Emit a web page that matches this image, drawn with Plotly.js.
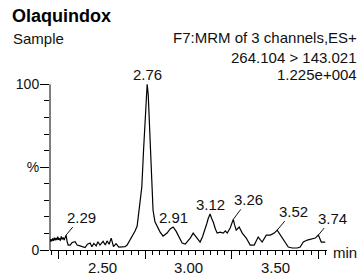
<!DOCTYPE html>
<html>
<head>
<meta charset="utf-8">
<script src="https://cdn.plot.ly/plotly-3.0.1.min.js"></script>
<style>
html,body{margin:0;padding:0;background:#fff;overflow:hidden;}
#chart{width:359px;height:278px;}
</style>
</head>
<body>
<div id="chart"></div>
<script>
// ---- data (retention time in min, relative intensity in %) ----
const times = [
  2.198,2.203,2.208,2.213,2.218,2.223,2.228,2.233,2.238,2.243,2.248,2.253,2.258,2.263,2.268,2.274,2.280,2.286,2.291,2.297,
  2.303,2.314,2.326,2.343,2.355,2.372,2.390,2.401,2.415,2.430,2.440,2.452,2.465,2.475,2.487,2.497,2.505,2.518,2.528,2.540,
  2.552,2.565,2.580,2.596,2.615,2.632,2.644,2.655,2.667,2.680,2.690,2.702,2.713,2.722,2.729,2.739,2.748,2.755,2.760,2.766,
  2.772,2.780,2.787,2.794,2.805,2.817,2.835,2.852,2.875,2.893,2.910,2.927,2.945,2.962,2.980,2.995,3.009,3.026,3.040,3.049,
  3.066,3.080,3.090,3.105,3.113,3.124,3.133,3.142,3.155,3.165,3.182,3.200,3.212,3.223,3.240,3.250,3.258,3.266,3.275,3.292,
  3.310,3.333,3.356,3.379,3.402,3.425,3.449,3.472,3.495,3.512,3.530,3.553,3.576,3.599,3.628,3.645,3.663,3.686,3.709,3.732,
  3.750,3.767,3.790
];
const intensity = [
  5.0,6.5,5.2,7.0,5.5,7.5,5.8,7.2,6.0,8.0,6.2,7.0,5.6,8.2,6.4,7.6,6.0,8.0,9.0,5.0,
  3.0,3.0,4.5,5.0,3.0,2.5,1.8,1.5,3.5,4.2,2.0,4.0,2.5,5.0,3.0,4.5,5.2,3.0,5.5,3.5,
  7.2,2.0,3.8,1.8,1.8,2.0,3.0,5.0,7.5,9.5,11.5,14.5,23,32,38,60,79,93,100,94,
  79,60,37,24,17,14.5,10.8,8.4,10.2,12.7,13.9,11.4,7.2,4.2,3.6,5.5,7.2,10.2,8.5,7.5,
  4.8,8.0,10.8,16,19,21.7,19,16.9,12.5,10.2,10.8,10.2,11.5,10.2,13.3,16,18.5,15,12.0,13.9,
  10.2,7.2,3.0,3.0,7.8,4.8,9.0,9.0,10.2,12.0,9.0,4.8,1.8,1.2,1.2,1.8,4.8,6.0,6.6,7.2,
  9.0,4.8,4.8
];
const peakLabels = ['2.29','2.76','2.91','3.12','3.26','3.52','3.74'];
const xTickLabels = ['2.50','3.00','3.50'];
const xLongTicks = [2.25, 2.75, 3.25, 3.75];
const yTickVals = [0, 50, 100];
const yTickLabels = ['0', '%', '100'];
const compoundName = 'Olaquindox';
const sampleName = 'Sample';
const headerRight = ['F7:MRM of 3 channels,ES+', '264.104 > 143.021', '1.225e+004'];
const xUnit = 'min';

// ---- layout helpers (pixel geometry of the plot frame) ----
const L = 50, R = 327, T = 81, B = 250;
const W = 359, H = 278;
const px = v => (v - L) / (R - L);
const py = v => (B - v) / (B - T);
const FONT = 'Liberation Sans, Arial, Helvetica, sans-serif';
const INK = '#111';

// label style: arrow offsets for leader-line labels
const labelStyle = {
  '2.29': {ax: 15, ay: -18},
  '3.26': {ax: 15, ay: -20},
  '3.52': {ax: 16, ay: -19},
  '3.74': {ax: 14, ay: -17}
};

const annotations = [];

// peak labels: anchored at the local maximum of the trace near the labelled time
peakLabels.forEach(lbl => {
  const t = parseFloat(lbl);
  let best = -1;
  for (let i = 0; i < times.length; i++) {
    if (Math.abs(times[i] - t) <= 0.0155 && (best < 0 || intensity[i] > intensity[best])) best = i;
  }
  const st = labelStyle[lbl];
  if (st) {
    annotations.push({
      x: times[best], y: intensity[best], xref: 'x', yref: 'y',
      text: lbl, showarrow: true, arrowhead: 0, arrowwidth: 1, arrowcolor: INK,
      ax: st.ax, ay: st.ay, standoff: 0,
      font: {family: FONT, size: 15, color: INK}
    });
  } else {
    annotations.push({
      x: times[best], y: intensity[best], xref: 'x', yref: 'y',
      text: lbl, showarrow: false, yanchor: 'bottom', yshift: -1,
      font: {family: FONT, size: 15, color: INK}
    });
  }
});

// x tick labels (placed between the long ticks, as in the original)
xTickLabels.forEach(lbl => {
  annotations.push({
    x: parseFloat(lbl), y: 0, xref: 'x', yref: 'y', text: lbl, showarrow: false,
    yanchor: 'middle', yshift: -17, font: {family: FONT, size: 15, color: INK}
  });
});

annotations.push({x: px(359), y: py(252), xref: 'paper', yref: 'paper', xanchor: 'right', yanchor: 'middle',
  text: xUnit, showarrow: false, font: {family: FONT, size: 15, color: INK}});

annotations.push({x: px(10), y: py(16.5), xref: 'paper', yref: 'paper', xanchor: 'left', yanchor: 'middle',
  text: '<b>' + compoundName + '</b>', showarrow: false, font: {family: FONT, size: 18, color: '#000'}});
annotations.push({x: px(11), y: py(38.5), xref: 'paper', yref: 'paper', xanchor: 'left', yanchor: 'middle',
  text: sampleName, showarrow: false, font: {family: FONT, size: 15, color: INK}});
const hdrY = [37.5, 57.5, 74];
headerRight.forEach((s, i) => {
  annotations.push({x: px(359), y: py(hdrY[i]), xref: 'paper', yref: 'paper', xanchor: 'right', yanchor: 'middle',
    text: s, showarrow: false, font: {family: FONT, size: 15, color: INK}});
});

const trace = {
  x: times, y: intensity, type: 'scatter', mode: 'lines',
  line: {color: '#000', width: 1.2, shape: 'linear'}, hoverinfo: 'skip'
};

const layout = {
  width: W, height: H,
  margin: {l: L, r: W - R, t: T, b: H - B, pad: 0},
  paper_bgcolor: '#fff', plot_bgcolor: '#fff',
  showlegend: false,
  xaxis: {
    range: [2.198, 3.80], showgrid: false, zeroline: false,
    showline: true, linecolor: '#000', linewidth: 1,
    tickmode: 'array', tickvals: xLongTicks, showticklabels: false,
    ticks: 'outside', ticklen: 8, tickwidth: 1, tickcolor: '#000',
    minor: {tick0: 2.25, dtick: 0.5 / 12, ticks: 'outside', ticklen: 4, tickwidth: 1, tickcolor: '#000', showgrid: false}
  },
  yaxis: {
    range: [0, 102], showgrid: false, zeroline: false, showline: false,
    tickmode: 'array', tickvals: yTickVals, ticktext: yTickLabels,
    ticks: 'outside', ticklen: 9, tickwidth: 1, tickcolor: '#000',
    ticklabelstandoff: -2,
    tickfont: {family: FONT, size: 14, color: INK},
    minor: {dtick: 10, ticks: 'outside', ticklen: 5, tickwidth: 1, tickcolor: '#000', showgrid: false}
  },
  shapes: [{type: 'line', xref: 'paper', yref: 'y', x0: 0, x1: 0, y0: 0, y1: 100,
    line: {color: '#000', width: 1}}],
  annotations: annotations
};

Plotly.newPlot('chart', [trace], layout, {staticPlot: true, displayModeBar: false});
</script>
</body>
</html>
